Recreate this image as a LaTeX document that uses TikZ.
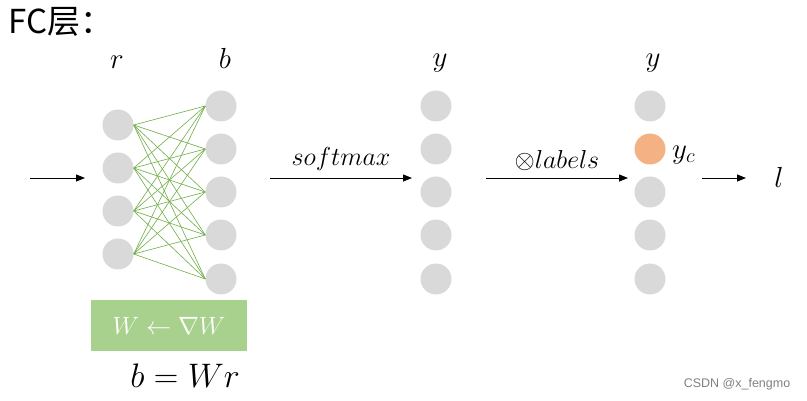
\RequirePackage{fix-cm}
\documentclass[tikz,border=0pt]{standalone}
\usepackage{fontspec}
\setmainfont{Liberation Sans}
\newfontfamily\cjkfont{Noto Sans CJK SC}
\usetikzlibrary{arrows.meta}

\definecolor{nodegray}{HTML}{D9D9D9}
\definecolor{linkgreen}{HTML}{70AD47}
\definecolor{boxgreen}{HTML}{A9D18E}
\definecolor{hotorange}{HTML}{F4B183}

\begin{document}
\begin{tikzpicture}[x=1pt, y=-1pt,
  neuron/.style={circle, fill=nodegray, minimum size=31pt, inner sep=0pt},
  link/.style={linkgreen, line width=0.6pt},
  flow/.style={-{Triangle[length=9pt, width=7pt]}, line width=0.9pt},
  lab/.style={font=\fontsize{29}{32}\selectfont, inner sep=0pt}]

  \useasboundingbox (0, 0) rectangle (807, 401);

  % Title
  \node[anchor=west, font=\cjkfont\fontsize{33}{36}\selectfont, inner sep=0pt] (title) at (8, 22) {FC层：};

  % Layer $r$ and layer $b$
  \foreach \i/\yv in {1/125, 2/168, 3/211, 4/254}{
    \node[neuron] (r\i) at (118, \yv) {};
  }
  \foreach \i/\yv in {1/106, 2/149, 3/192, 4/235, 5/279}{
    \node[neuron] (b\i) at (221, \yv) {};
    \node[neuron] (s\i) at (436, \yv) {};
  }
  \foreach \i/\yv in {1/106, 3/192, 4/235, 5/279}{
    \node[neuron] (p\i) at (650, \yv) {};
  }
  \node[neuron, fill=hotorange] (p2) at (650, 149) {};

  % Full connections $W$
  \foreach \i in {1, ..., 4}{
    \foreach \j in {1, ..., 5}{
      \draw[link] (r\i.east) -- (b\j.west);
    }
  }

  \node[lab] (rlab) at (117, 62) {$r$};
  \node[lab] (blab) at (225, 58) {$b$};
  \node[lab] (slab) at (440, 63) {$y$};
  \node[lab] (plab) at (653, 63) {$y$};
  \node[lab, anchor=west] (yc) at (672, 155) {$y_c$};

  % Arrows between the stages
  \coordinate (in0) at (30, 178);
  \coordinate (in1) at (85, 178);
  \coordinate (sm0) at (270, 178);
  \coordinate (sm1) at (412, 178);
  \coordinate (lb0) at (486, 178);
  \coordinate (lb1) at (628, 178);
  \coordinate (out0) at (702, 178);
  \coordinate (out1) at (746, 178);

  \draw[flow] (in0) -- (in1);
  \draw[flow] (sm0) -- (sm1)
    node[midway, above=7pt, font=\fontsize{26}{29}\selectfont, inner sep=0pt] (smlab) {$softmax$};
  \draw[flow] (lb0) -- (lb1)
    node[midway, above=7pt, font=\fontsize{26}{29}\selectfont, inner sep=0pt] (lblab) {$\otimes labels$};
  \draw[flow] (out0) -- (out1);
  \node[lab] (loss) at (779, 177) {$l$};

  % Update and forward rule
  \node[fill=boxgreen, minimum width=156pt, minimum height=51pt, inner sep=0pt,
    text=white, font=\fontsize{25}{28}\selectfont] (upd) at (169, 325.5) {$W \leftarrow \nabla W$};
  \node[font=\fontsize{34}{37}\selectfont, inner sep=0pt] (fwd) at (185, 376) {$b = Wr$};

  \node[text=gray, font=\fontsize{12.5}{14}\selectfont, inner sep=0pt] (mark) at (737, 384) {CSDN @x\_fengmo};

\end{tikzpicture}
\end{document}
